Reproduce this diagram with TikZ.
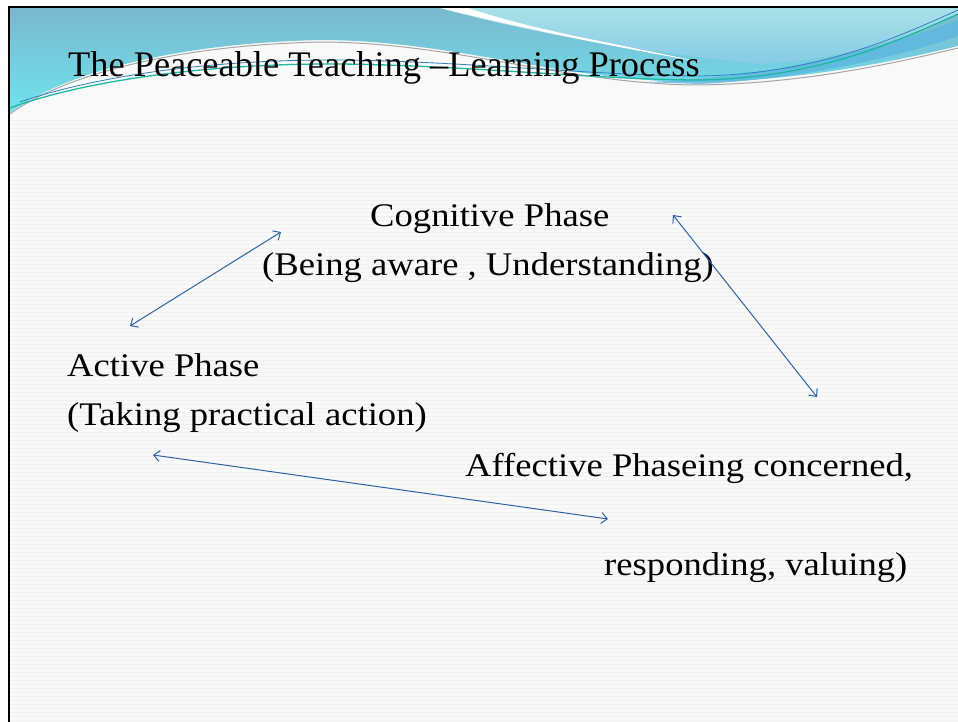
\documentclass[tikz,border=0pt]{standalone}
\usepackage{fontspec}
\setmainfont{Liberation Serif}
\usetikzlibrary{arrows.meta}
\definecolor{slidebg}{HTML}{F9F9F9}
\definecolor{stripe}{HTML}{F1F1F1}
\definecolor{hdrtop}{HTML}{7AB8CE}
\definecolor{hdrbot}{HTML}{6FE3EC}
\definecolor{skytop}{HTML}{A9E1E8}
\definecolor{skybot}{HTML}{86CBE6}
\definecolor{swoosh}{HTML}{5DB6E0}
\definecolor{tealline}{HTML}{1DB8A2}
\definecolor{blueline}{HTML}{2E7FC0}
\definecolor{arrowblue}{HTML}{2A62A8}
\tikzset{
  phase/.style={anchor=base west, inner sep=0pt, font=\fontsize{33}{38}\selectfont,
    text=black, xscale=1.11, transform shape},
  link/.style={draw=arrowblue, line width=1pt, {Straight Barb[length=6pt,width=11pt]}-{Straight Barb[length=6pt,width=11pt]}},
}
\begin{document}
\begin{tikzpicture}[x=1pt,y=-1pt]
\useasboundingbox (0,0) rectangle (958,722);
% page and slide surface
\fill[white] (0,0) rectangle (958,722);
\fill[slidebg] (9,8) rectangle (958,722);
\foreach \yy in {120,124,...,720} \draw[stripe, line width=0.6pt] (10,\yy) -- (958,\yy);
% header wave
\shade[top color=hdrtop, bottom color=hdrbot]
  (10,8) -- (10,113) .. controls (50,82) and (150,44) .. (320,40)
  .. controls (450,40) and (560,80) .. (690,82)
  .. controls (800,82) and (900,60) .. (958,46) -- (958,8) -- cycle;
\shade[top color=skytop, bottom color=skybot]
  (440,8) .. controls (530,33) and (640,52) .. (760,64)
  .. controls (850,60) and (920,32) .. (958,14) -- (958,8) -- cycle;
\fill[white] (440,8) .. controls (520,28) and (600,44) .. (700,62)
  .. controls (620,44) and (540,32) .. (468,8) -- cycle;
\fill[swoosh, opacity=0.8] (640,82) .. controls (760,80) and (880,50) .. (958,20)
  -- (958,36) .. controls (890,60) and (790,80) .. (700,84) -- cycle;
\draw[gray!70, line width=1pt] (10,114) .. controls (50,84) and (150,46) .. (320,42)
  .. controls (450,42) and (560,82) .. (690,85)
  .. controls (800,85) and (900,62) .. (958,48);
\draw[tealline, line width=1.3pt] (10,108) .. controls (80,82) and (200,64) .. (330,64)
  .. controls (450,64) and (600,80) .. (700,80)
  .. controls (820,78) and (900,40) .. (958,14);
\draw[blueline, line width=0.8pt] (20,102) .. controls (90,78) and (200,60) .. (330,60)
  .. controls (450,60) and (600,76) .. (700,76)
  .. controls (820,74) and (900,36) .. (958,10);
% slide frame
\draw[black, line width=2pt] (8,7) -- (958,7);
\draw[black, line width=2pt] (9,7) -- (9,722);
% title
\node[anchor=base west, inner sep=0pt, font=\fontsize{36}{40}\selectfont, xscale=1.01, transform shape] (title) at (68,77) {The Peaceable Teaching --Learning Process};
% phase texts
\node[phase] (cog) at (370,226) {Cognitive Phase};
\node[phase] (cogsub) at (262,275) {(Being aware , Understanding)};
\node[phase] (act) at (67,376) {Active Phase};
\node[phase] (actsub) at (67,425) {(Taking practical action)};
\node[phase] (aff) at (465,476) {Affective Phaseing concerned,};
\node[phase] (affsub) at (604,575) {responding, valuing)};
% connector end points
\coordinate (a1) at (130,326);
\coordinate (a2) at (281,232);
\coordinate (b1) at (673,215);
\coordinate (b2) at (817,397);
\coordinate (c1) at (153,455);
\coordinate (c2) at (608,519);
\draw[link] (a1) -- (a2);
\draw[link] (b1) -- (b2);
\draw[link] (c1) -- (c2);
\end{tikzpicture}
\end{document}
